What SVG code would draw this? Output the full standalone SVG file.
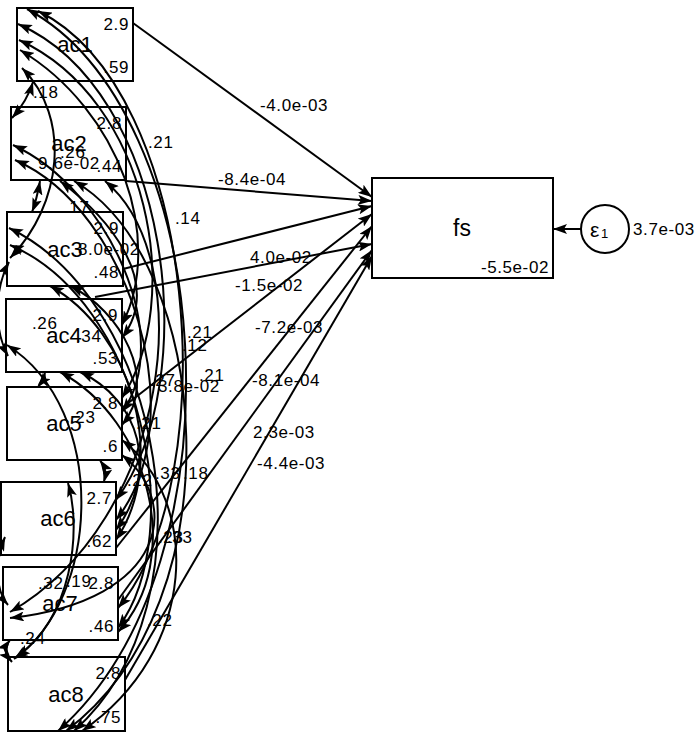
<svg xmlns="http://www.w3.org/2000/svg" width="696" height="732" viewBox="0 0 696 732">
<style>
.box{fill:#fff;stroke:#000;stroke-width:2}
.cv{fill:none;stroke:#000;stroke-width:2;marker-start:url(#ah);marker-end:url(#ah)}
.pa{fill:none;stroke:#000;stroke-width:2;marker-end:url(#ah)}
text{font-family:"Liberation Sans",Arial,sans-serif;fill:#000}
.num{font-size:17px;letter-spacing:0.6px}
.nm{font-size:22px;text-anchor:middle}
.r{text-anchor:end}
</style>
<defs>
<marker id="ah" viewBox="0 0 14 10" refX="14" refY="5" markerWidth="14" markerHeight="10" markerUnits="userSpaceOnUse" orient="auto-start-reverse">
<path d="M0,0 L14,5 L0,10 L3,5 z" fill="#000"/>
</marker>
</defs>
<rect width="696" height="732" fill="#fff"/>

<g id="nodes">
<g id="ac1"><rect class="box" x="17" y="8" width="116" height="73"/><text class="nm" x="75" y="52">ac1</text><text class="num r" x="129" y="30">2.9</text><text class="num r" x="129" y="73">.59</text></g>
<g id="ac2"><rect class="box" x="11" y="107" width="115" height="73"/><text class="nm" x="69" y="151">ac2</text><text class="num r" x="122" y="129">2.8</text><text class="num r" x="122" y="172">.44</text></g>
<g id="ac3"><rect class="box" x="7" y="212" width="116" height="74"/><text class="nm" x="65" y="257">ac3</text><text class="num r" x="119" y="234">2.9</text><text class="num r" x="119" y="278">.48</text></g>
<g id="ac4"><rect class="box" x="6" y="299" width="116" height="73"/><text class="nm" x="64" y="343">ac4</text><text class="num r" x="118" y="321">2.9</text><text class="num r" x="118" y="364">.53</text></g>
<g id="ac5"><rect class="box" x="7" y="387" width="115" height="73"/><text class="nm" x="64" y="431">ac5</text><text class="num r" x="118" y="409">2.8</text><text class="num r" x="118" y="452">.6</text></g>
<g id="ac6"><rect class="box" x="1" y="482" width="115" height="73"/><text class="nm" x="58" y="526">ac6</text><text class="num r" x="112" y="504">2.7</text><text class="num r" x="112" y="547">.62</text></g>
<g id="ac7"><rect class="box" x="3" y="567" width="115" height="73"/><text class="nm" x="60" y="611">ac7</text><text class="num r" x="114" y="589">2.8</text><text class="num r" x="114" y="632">.46</text></g>
<g id="ac8"><rect class="box" x="8" y="657" width="117" height="74"/><text class="nm" x="66" y="702">ac8</text><text class="num r" x="121" y="679">2.8</text><text class="num r" x="121" y="723">.75</text></g>
<g id="fs"><rect class="box" x="372" y="178" width="181" height="100"/><text x="462" y="236" style="font-size:23px;text-anchor:middle">fs</text><text class="num r" x="549" y="273">-5.5e-02</text></g>
<g id="e1"><circle cx="605" cy="229" r="24" fill="#fff" stroke="#000" stroke-width="2"/><text x="590" y="237" style="font-size:21px">ε</text><text x="601" y="238" style="font-size:13px">1</text><text class="num" x="633" y="235">3.7e-03</text></g>
</g>

<g id="connectors">
<path class="pa" d="M581,229 L553,229"/>
<path class="pa" d="M133,23 L372,197"/>
<path class="pa" d="M126,181 L372,201"/>
<path class="pa" d="M123,269 L372,206"/>
<path class="pa" d="M95,297 L372,244"/>
<path class="pa" d="M123,407 L372,214"/>
<path class="pa" d="M116,548 L372,226"/>
<path class="pa" d="M118,600 L372,250"/>
<path class="pa" d="M125,680 L372,256"/>

<path class="cv" d="M33,82 C29,95 21,108 12,118"/>
<path class="cv" d="M22,68 C72,118 62,205 10,258"/>
<path class="cv" d="M20,50 C120,110 165,240 122,325"/>
<path class="cv" d="M19,40 C150,100 185,300 122,398"/>
<path class="cv" d="M18,24 C170,90 205,380 116,500"/>
<path class="cv" d="M38,11 C200,90 225,480 118,608"/>
<path class="cv" d="M27,9 C215,110 250,560 58,731"/>

<path class="cv" d="M40,181 C38,192 36,202 32,212"/>
<path class="cv" d="M60,181 C105,215 165,280 122,338"/>
<path class="cv" d="M13,145 C110,190 175,340 122,412"/>
<path class="cv" d="M15,160 C130,210 195,420 116,520"/>
<path class="cv" d="M105,181 C200,260 170,520 10,612"/>
<path class="cv" d="M74,181 C210,260 240,600 66,731"/>

<path class="cv" d="M9,262 C-6,290 -6,330 8,356"/>
<path class="cv" d="M70,286 C120,310 160,380 122,425"/>
<path class="cv" d="M50,286 C130,330 170,460 116,540"/>
<path class="cv" d="M10,245 C140,300 190,530 118,628"/>
<path class="cv" d="M9,228 C160,300 220,600 74,731"/>

<path class="cv" d="M45,372 C44,378 42,382 38,387"/>
<path class="cv" d="M80,372 C140,400 160,470 116,530"/>
<path class="cv" d="M60,372 C150,420 185,560 118,632"/>
<path class="cv" d="M7,345 C110,410 100,600 14,659"/>

<path class="cv" d="M100,460 C104,466 106,474 104,482"/>
<path class="cv" d="M122,455 C180,500 170,600 10,618"/>
<path class="cv" d="M122,440 C200,500 200,650 82,731"/>
<path class="cv" d="M5,537 C-5,560 -5,590 8,605"/>
<path class="cv" d="M68,483 C82,530 72,620 16,657"/>
<path class="cv" d="M10,640 C4,648 6,655 12,662"/>
</g>

<g id="labels">
<text class="num" x="260" y="111">-4.0e-03</text>
<text class="num" x="218" y="185">-8.4e-04</text>
<text class="num" x="250" y="263">4.0e-02</text>
<text class="num" x="235" y="291">-1.5e-02</text>
<text class="num" x="255" y="333">-7.2e-03</text>
<text class="num" x="252" y="386">-8.1e-04</text>
<text class="num" x="253" y="438">2.3e-03</text>
<text class="num" x="257" y="469">-4.4e-03</text>

<text class="num" x="33" y="98">.18</text>
<text class="num" x="148" y="148">.21</text>
<text class="num" x="60" y="158">.26</text>
<text class="num" x="38" y="169">9.6e-02</text>
<text class="num" x="64" y="213">.17</text>
<text class="num" x="175" y="224">.14</text>
<text class="num" x="78" y="255">8.0e-02</text>
<text class="num" x="32" y="329">.26</text>
<text class="num" x="76" y="342">.34</text>
<text class="num" x="187" y="338">.21</text>
<text class="num" x="182" y="351">.12</text>
<text class="num" x="199" y="381">.21</text>
<text class="num" x="150" y="386">.27</text>
<text class="num" x="158" y="392">3.8e-02</text>
<text class="num" x="70" y="423">.23</text>
<text class="num" x="136" y="429">.21</text>
<text class="num" x="127" y="486">.22</text>
<text class="num" x="155" y="479">.33</text>
<text class="num" x="183" y="479">.18</text>
<text class="num" x="158" y="543">.23</text>
<text class="num" x="167" y="543">.33</text>
<text class="num" x="38" y="589">.32</text>
<text class="num" x="66" y="587">.19</text>
<text class="num" x="20" y="644">.24</text>
<text class="num" x="147" y="626">.22</text>
</g>
</svg>
